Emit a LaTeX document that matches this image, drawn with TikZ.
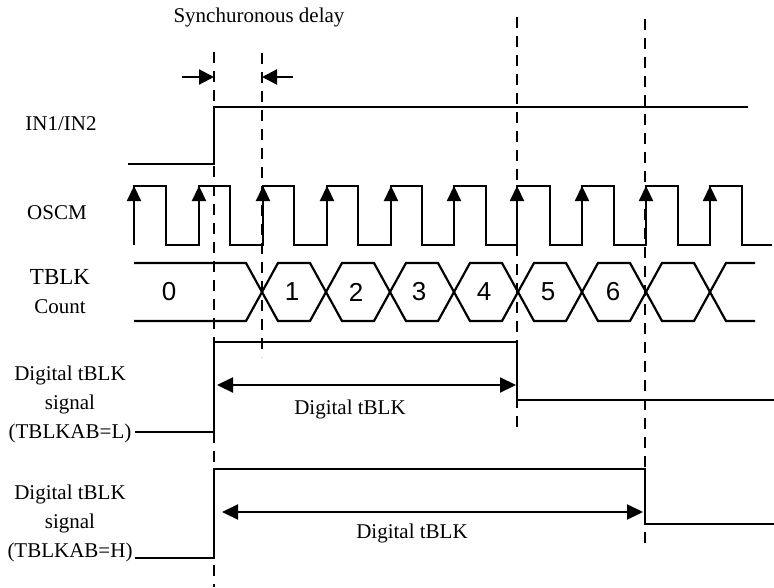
\documentclass[tikz,border=0pt]{standalone}
\usepackage{fontspec}
\setmainfont{Liberation Serif}
\newfontfamily\countfont{Liberation Sans}
\usetikzlibrary{arrows.meta}

\tikzset{
  sig/.style={line width=2.2pt, line join=miter},
  mark line/.style={line width=2.4pt, dash pattern=on 11pt off 8pt},
  clk/.style={line width=2.2pt, -{Triangle[length=15pt, width=14pt]}},
  span/.style={line width=2.2pt, {Triangle[length=16pt, width=15pt]}-{Triangle[length=16pt, width=15pt]}},
  lbl/.style={inner sep=0pt, font=\fontsize{21}{29}\selectfont, align=center},
  cnt/.style={inner sep=0pt, font=\countfont\fontsize{26}{30}\selectfont}
}

\begin{document}
\begin{tikzpicture}[x=1pt, y=-1pt]
\useasboundingbox (0,0) rectangle (774,587);

% labels
\node (delay)[lbl] at (259,17) {Synchuronous delay};
\node (in)[lbl] at (61,124) {IN1/IN2};
\node (osc)[lbl] at (57,213) {OSCM};
\node (tblk)[lbl, font=\fontsize{23}{29}\selectfont] at (60,277) {TBLK};
\node (cnt)[lbl] at (60,307) {Count};
\node (sigL)[lbl] at (70,404) {Digital tBLK\\signal\\(TBLKAB=L)};
\node (sigH)[lbl] at (70,523) {Digital tBLK\\signal\\(TBLKAB=H)};

% dashed markers
\draw[mark line] (214,52) -- (214,587);
\draw[mark line] (262,53) -- (262,357);
\draw[mark line] (517,17) -- (517,432);
\draw[mark line] (645,19) -- (645,547);

% synchronous delay
\draw[line width=2.2pt, -{Triangle[length=15pt, width=15pt]}] (182,77) -- (214,77);
\draw[line width=2.2pt, -{Triangle[length=15pt, width=15pt]}] (293,77) -- (262,77);

% IN1/IN2
\draw[sig] (128,164) -- (214,164) -- (214,107) -- (748,107);

% OSCM
\draw[sig] (134,245) -- (134,186) -- (166,186) -- (166,245) -- (199,245) -- (199,186)
  -- (230,186) -- (230,245) -- (263,245) -- (263,186) -- (294,186) -- (294,245)
  -- (327,245) -- (327,186) -- (358,186) -- (358,245) -- (391,245) -- (391,186)
  -- (422,186) -- (422,245) -- (454,245) -- (454,186) -- (486,186) -- (486,245)
  -- (517,245) -- (517,186) -- (550,186) -- (550,245) -- (582,245) -- (582,186)
  -- (614,186) -- (614,245) -- (646,245) -- (646,186) -- (678,186) -- (678,245)
  -- (710,245) -- (710,186) -- (742,186) -- (742,245) -- (772,245);
\draw[clk] (134,245) -- (134,186);
\draw[clk] (199,245) -- (199,186);
\draw[clk] (263,245) -- (263,186);
\draw[clk] (327,245) -- (327,186);
\draw[clk] (391,245) -- (391,186);
\draw[clk] (454,245) -- (454,186);
\draw[clk] (517,245) -- (517,186);
\draw[clk] (582,245) -- (582,186);
\draw[clk] (646,245) -- (646,186);
\draw[clk] (710,245) -- (710,186);

% TBLK count
\draw[sig] (134,263) -- (246,263) -- (278,321) -- (310,321) -- (342,263) -- (374,263)
  -- (406,321) -- (438,321) -- (470,263) -- (502,263) -- (534,321) -- (566,321)
  -- (598,263) -- (630,263) -- (662,321) -- (694,321) -- (726,263) -- (755,263);
\draw[sig] (134,321) -- (246,321) -- (278,263) -- (310,263) -- (342,321) -- (374,321)
  -- (406,263) -- (438,263) -- (470,321) -- (502,321) -- (534,263) -- (566,263)
  -- (598,321) -- (630,321) -- (662,263) -- (694,263) -- (726,321) -- (755,321);
\node (c0)[cnt] at (169,292) {0};
\node (c1)[cnt] at (292,292) {1};
\node (c2)[cnt] at (356,292) {2};
\node (c3)[cnt] at (419,292) {3};
\node (c4)[cnt] at (484,292) {4};
\node (c5)[cnt] at (548,292) {5};
\node (c6)[cnt] at (613,292) {6};

% digital tBLK, TBLKAB=L
\draw[sig] (135,432) -- (214,432) -- (214,342) -- (517,342) -- (517,400) -- (774,400);
\draw[span] (217,385) -- (516,385);
\node (wL)[lbl] at (350,409) {Digital tBLK};

% digital tBLK, TBLKAB=H
\draw[sig] (135,558) -- (214,558) -- (214,469) -- (645,469) -- (645,524) -- (774,524);
\draw[span] (222,512) -- (643,512);
\node (wH)[lbl] at (412,533) {Digital tBLK};
\end{tikzpicture}
\end{document}
